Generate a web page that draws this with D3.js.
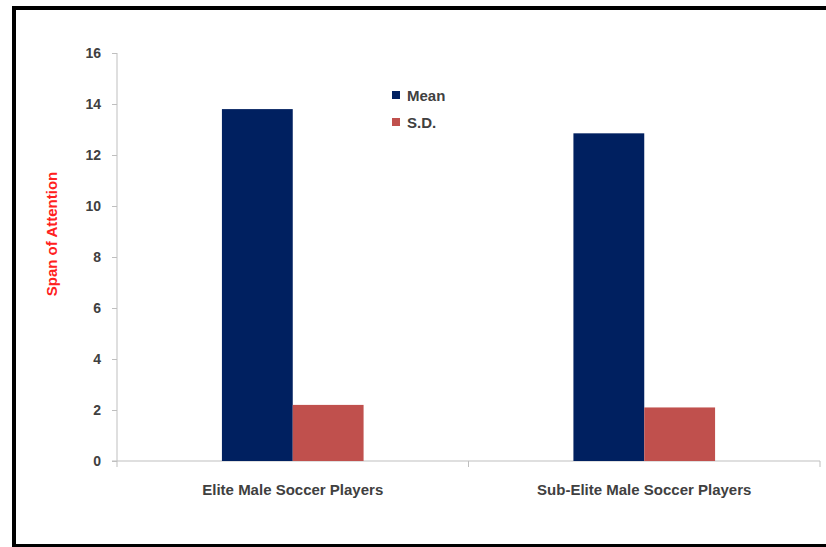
<!DOCTYPE html>
<html><head><meta charset="utf-8">
<script src="https://cdn.jsdelivr.net/npm/d3@7"></script>
<style>body{margin:0;background:#fff}svg{display:block}</style>
</head><body>
<svg id="c" width="826" height="547"></svg>
<script>
const categories = ["Elite Male Soccer Players", "Sub-Elite Male Soccer Players"];
const seriesNames = ["Mean", "S.D."];
const meanValues = [13.8, 12.85];
const sdValues = [2.2, 2.1];
const yTicks = [0, 2, 4, 6, 8, 10, 12, 14, 16];
const colors = ["#002060", "#C0504D"];

(function(){
const svg = d3.select("#c");
// outer frame
svg.append("rect").attr("x", 14).attr("y", 8).attr("width", 900).attr("height", 538)
  .attr("fill", "none").attr("stroke", "#000").attr("stroke-width", 4);

const mLeft = 117, mRight = 820, mTop = 53, mBottom = 461;
const y = d3.scaleLinear().domain([0, 16]).range([mBottom, mTop]);
const x0 = d3.scaleBand().domain(categories).range([mLeft, mRight]).paddingInner(0.597).paddingOuter(0.2985);
const x1 = d3.scaleBand().domain(seriesNames).range([0, x0.bandwidth()]);

const data = categories.map((c, i) => ({c, vals: [meanValues[i], sdValues[i]]}));

const axisColor = "#bfbfbf";
const txtColor = "#404040";
const font = "'Liberation Sans', Arial, sans-serif";

// y axis
const yAxis = svg.append("g").attr("transform", `translate(${mLeft},0)`)
  .call(d3.axisLeft(y).tickValues(yTicks).tickSize(5).tickPadding(11).tickFormat(d3.format("d")));
yAxis.selectAll("path,line").attr("stroke", axisColor);
yAxis.select(".domain").attr("d", `M0,${mTop}V${mBottom}`);
yAxis.selectAll("text").attr("fill", txtColor).attr("font-family", font).attr("font-weight", "bold").attr("font-size", 14);

// x axis
const xAxis = svg.append("g").attr("transform", `translate(0,${mBottom})`);
xAxis.append("line").attr("x1", mLeft - 5).attr("x2", mRight).attr("stroke", axisColor);
const bounds = [mLeft, x0.step() + mLeft, mRight];
xAxis.selectAll("line.t").data(bounds).enter().append("line").attr("class", "t")
  .attr("x1", d => d).attr("x2", d => d).attr("y1", 0).attr("y2", 6).attr("stroke", axisColor);
xAxis.selectAll("text").data(categories).enter().append("text")
  .attr("x", d => x0(d) + x0.bandwidth() / 2).attr("y", 34)
  .attr("text-anchor", "middle").attr("fill", txtColor).attr("font-family", font)
  .attr("font-weight", "bold").attr("font-size", 15).text(d => d);

// bars
const g = svg.append("g");
data.forEach(d => {
  d.vals.forEach((v, j) => {
    g.append("rect")
      .attr("x", x0(d.c) + x1(seriesNames[j]))
      .attr("y", y(v))
      .attr("width", x1.bandwidth())
      .attr("height", y(0) - y(v))
      .attr("fill", colors[j]);
  });
});

// y title
svg.append("text").attr("transform", `translate(57,234) rotate(-90)`)
  .attr("text-anchor", "middle").attr("fill", "#ff2020").attr("font-family", font)
  .attr("font-weight", "bold").attr("font-size", 15).text("Span of Attention");

// legend
const leg = svg.append("g").attr("transform", "translate(392,91)");
seriesNames.forEach((s, i) => {
  leg.append("rect").attr("x", 0).attr("y", i * 27).attr("width", 8).attr("height", 8).attr("fill", colors[i]);
  leg.append("text").attr("x", 15).attr("y", i * 27 + 9.5).attr("fill", txtColor)
    .attr("font-family", font).attr("font-weight", "bold").attr("font-size", 15).text(s);
});
})();
</script>
</body></html>
